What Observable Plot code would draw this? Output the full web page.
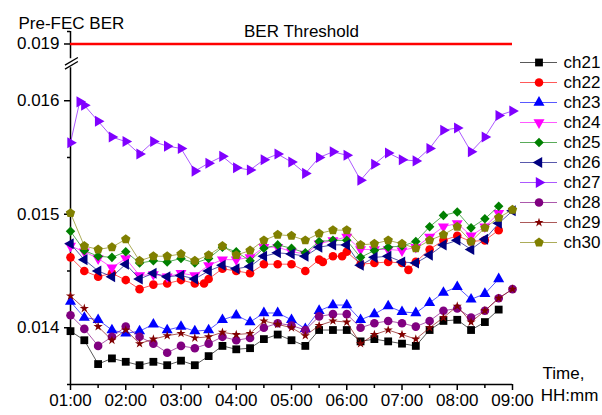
<!DOCTYPE html>
<html>
<head>
<meta charset="utf-8">
<script src="https://cdn.jsdelivr.net/npm/d3@7"></script>
<script src="https://cdn.jsdelivr.net/npm/@observablehq/plot@0.6"></script>
<style>
  html, body { margin: 0; padding: 0; background: #fff; }
  #chart { position: relative; width: 602px; height: 415px; }
  #chart svg { position: absolute; }
</style>
</head>
<body>
<div id="chart"></div>
<script>
// Sampling times (every 15 minutes)
const times = ["01:00","01:15","01:30","01:45","02:00","02:15","02:30","02:45","03:00","03:15","03:30","03:45",
  "04:00","04:15","04:30","04:45","05:00","05:15","05:30","05:45","06:00","06:15","06:30","06:45",
  "07:00","07:15","07:30","07:45","08:00","08:15","08:30","08:45","09:00"];
// Channels with extra samples between the regular ones
const ch22Times = ["01:00","01:15","01:30","01:45","02:00","02:15","02:30","02:45","03:00","03:15","03:25","03:30",
  "03:45","04:00","04:15","04:30","04:45","05:00","05:15","05:30","05:34","05:45","05:55","06:00",
  "06:15","06:30","06:45","07:00","07:07","07:15","07:30","07:45","08:00","08:15","08:30","08:45"];
const ch27Times = ["01:00","01:10","01:15","01:30","01:45","02:00","02:15","02:30","02:45","03:00","03:15","03:30","03:45",
  "04:00","04:15","04:30","04:45","05:00","05:15","05:30","05:45","06:00","06:15","06:30","06:45",
  "07:00","07:15","07:30","07:45","08:00","08:15","08:30","08:45","09:00"];

// Pre-FEC BER per channel
const ch21 = [0.01397,0.01389,0.01368,0.01373,0.01370,0.01367,0.01370,0.01367,0.01371,0.01367,0.01375,0.01384,
  0.01381,0.01382,0.01390,0.01394,0.01389,0.01384,0.01398,0.01398,0.01398,0.01388,0.01390,0.01388,
  0.01386,0.01384,0.01398,0.01406,0.01407,0.01398,0.01405,0.01416];
const ch22 = [0.01462,0.01450,0.01445,0.01448,0.01442,0.01434,0.01438,0.01439,0.01442,0.01439,0.01439,0.01443,
  0.01452,0.01450,0.01448,0.01456,0.01456,0.01456,0.01450,0.01460,0.01458,0.01463,0.01463,0.01467,
  0.01456,0.01457,0.01458,0.01457,0.01451,0.01458,0.01469,0.01477,0.01481,0.01476,0.01477,0.01486];
const ch23 = [0.01423,0.01409,0.01407,0.01398,0.01395,0.01397,0.01403,0.01398,0.01401,0.01397,0.01398,0.01407,
  0.01411,0.01405,0.01413,0.01413,0.01407,0.01399,0.01415,0.01420,0.01420,0.01407,0.01412,0.01419,
  0.01414,0.01413,0.01422,0.01431,0.01436,0.01425,0.01430,0.01443];
const ch24 = [0.01472,0.01467,0.01461,0.01453,0.01461,0.01446,0.01447,0.01445,0.01448,0.01446,0.01455,0.01460,
  0.01460,0.01462,0.01471,0.01471,0.01467,0.01465,0.01474,0.01477,0.01480,0.01469,0.01469,0.01469,
  0.01468,0.01471,0.01480,0.01489,0.01492,0.01481,0.01489,0.01501];
const ch25 = [0.01485,0.01468,0.01463,0.01462,0.01467,0.01457,0.01459,0.01458,0.01461,0.01457,0.01461,0.01471,
  0.01467,0.01459,0.01470,0.01473,0.01470,0.01466,0.01476,0.01477,0.01477,0.01462,0.01468,0.01471,
  0.01472,0.01476,0.01489,0.01499,0.01502,0.01488,0.01496,0.01507];
const ch26 = [0.01474,0.01460,0.01450,0.01445,0.01456,0.01443,0.01448,0.01445,0.01446,0.01443,0.01450,0.01455,
  0.01452,0.01454,0.01463,0.01466,0.01465,0.01463,0.01471,0.01473,0.01473,0.01455,0.01462,0.01463,
  0.01458,0.01457,0.01464,0.01473,0.01477,0.01469,0.01478,0.01492,0.01503];
const ch27 = [0.01563,0.01599,0.01596,0.01582,0.01568,0.01564,0.01553,0.01564,0.01560,0.01558,0.01538,0.01545,
  0.01551,0.01541,0.01539,0.01548,0.01553,0.01546,0.01536,0.01550,0.01555,0.01552,0.01530,0.01544,
  0.01554,0.01548,0.01547,0.01558,0.01574,0.01576,0.01555,0.01568,0.01587,0.01591];
const ch28 = [0.01411,0.01399,0.01384,0.01392,0.01401,0.01392,0.01386,0.01378,0.01384,0.01382,0.01386,0.01392,
  0.01389,0.01391,0.01400,0.01404,0.01402,0.01398,0.01410,0.01412,0.01412,0.01400,0.01404,0.01406,
  0.01404,0.01401,0.01406,0.01415,0.01417,0.01409,0.01415,0.01426,0.01434];
const ch29 = [0.01428,0.01417,0.01401,0.01389,0.01398,0.01386,0.01390,0.01393,0.01395,0.01391,0.01392,0.01396,
  0.01394,0.01395,0.01406,0.01403,0.01400,0.01393,0.01402,0.01406,0.01405,0.01386,0.01394,0.01398,
  0.01394,0.01390,0.01400,0.01409,0.01419,0.01405,0.01415,0.01426,0.01434];
const ch30 = [0.01501,0.01472,0.01469,0.01471,0.01478,0.01459,0.01463,0.01463,0.01465,0.01459,0.01464,0.01472,
  0.01464,0.01468,0.01477,0.01482,0.01481,0.01477,0.01483,0.01486,0.01486,0.01473,0.01474,0.01477,
  0.01474,0.01470,0.01477,0.01482,0.01489,0.01476,0.01488,0.01497,0.01504];

const berThreshold = 0.019;
const thresholdLabel = "BER Threshold";
const yTitle = "Pre-FEC BER";
const xTitle = ["Time,", "HH:mm"];
const yTicks = [0.014, 0.015, 0.016, 0.019];
const yMinorTicks = [0.0135, 0.0145, 0.0155, 0.01911];
const hourTicks = ["01:00","02:00","03:00","04:00","05:00","06:00","07:00","08:00","09:00"];
const halfHourTicks = ["01:30","02:30","03:30","04:30","05:30","06:30","07:30","08:30"];

// Axis segments either side of the break
const yLowerSpan = [0.0135, 0.01629];
const yUpperSpan = [0.01887, 0.01911];

// ---- styling ----
const font = "'Liberation Sans', Arial, Helvetica, sans-serif";
const sqrt3 = Math.sqrt(3);
const triangleDown = {draw(c, size) { const y = -Math.sqrt(size / (sqrt3 * 3));
  c.moveTo(0, -2 * y); c.lineTo(-sqrt3 * y, y); c.lineTo(sqrt3 * y, y); c.closePath(); }};
const triangleLeft = {draw(c, size) { const y = -Math.sqrt(size / (sqrt3 * 3));
  c.moveTo(2 * y, 0); c.lineTo(-y, -sqrt3 * y); c.lineTo(-y, sqrt3 * y); c.closePath(); }};
const triangleRight = {draw(c, size) { const y = -Math.sqrt(size / (sqrt3 * 3));
  c.moveTo(-2 * y, 0); c.lineTo(y, sqrt3 * y); c.lineTo(y, -sqrt3 * y); c.closePath(); }};
const pentagon = {draw(c, size) { const R = Math.sqrt(2 * size / (5 * Math.sin(2 * Math.PI / 5)));
  for (let k = 0; k < 5; ++k) { const a = -Math.PI / 2 + k * 2 * Math.PI / 5;
    k ? c.lineTo(R * Math.cos(a), R * Math.sin(a)) : c.moveTo(R * Math.cos(a), R * Math.sin(a)); }
  c.closePath(); }};

const seriesStyle = {
  ch21: {color: "#000000", symbol: "square", r: 4.4},
  ch22: {color: "#ff0000", symbol: "circle", r: 4.3},
  ch23: {color: "#0000ff", symbol: "triangle", r: 4.1},
  ch24: {color: "#ff00ff", symbol: triangleDown, r: 4.1},
  ch25: {color: "#008000", symbol: "diamond2", r: 4.3},
  ch26: {color: "#000080", symbol: triangleLeft, r: 4.1},
  ch27: {color: "#8000ff", symbol: triangleRight, r: 4.1},
  ch28: {color: "#800080", symbol: "circle", r: 4.3},
  ch29: {color: "#800000", symbol: "star", r: 2.9},
  ch30: {color: "#808000", symbol: pentagon, r: 4.3}
};

const parseTime = d3.utcParse("%H:%M");
const series = [
  ["ch21", times, ch21], ["ch22", ch22Times, ch22], ["ch23", times, ch23], ["ch24", times, ch24],
  ["ch25", times, ch25], ["ch26", times, ch26], ["ch27", ch27Times, ch27], ["ch28", times, ch28],
  ["ch29", times, ch29], ["ch30", times, ch30]
].map(([name, t, v]) => ({name, rows: v.map((value, i) => ({time: parseTime(t[i]), value}))}));
const names = series.map(s => s.name);

// Broken y axis: values above the break are shifted down next to the lower segment
const yBreak = {above: 0.018, shift: 0.0025};
const breakY = v => v > yBreak.above ? v - yBreak.shift : v;
const gapMiddle = (yLowerSpan[1] + breakY(yUpperSpan[0])) / 2;
const unbreakY = v => v > gapMiddle ? v + yBreak.shift : v;
const formatBer = d3.format(".3f");

const x0 = parseTime(hourTicks[0]);
const minutes = m => new Date(x0.getTime() + m * 60000);
const breakSlashes = [0.016279, 0.016314].map(b => ({x1: minutes(-6), x2: minutes(8), y1: b, y2: b + 0.000067}));

const seriesMarks = series.flatMap(({name, rows}) => {
  const s = seriesStyle[name];
  return [
    Plot.line(rows, {x: "time", y: "value", stroke: s.color, strokeWidth: 1, strokeOpacity: 0.65}),
    Plot.dot(rows, {x: "time", y: "value", fill: s.color, symbol: s.symbol, r: s.r})
  ];
});

const chart = Plot.plot({
  width: 602,
  height: 415,
  marginLeft: 70,
  marginRight: 90,
  marginTop: 31,
  marginBottom: 31,
  style: {fontFamily: font, fontSize: "17px", color: "#000", background: "transparent", overflow: "visible"},
  x: {type: "utc", domain: [parseTime(hourTicks[0]), parseTime(hourTicks[hourTicks.length - 1])]},
  y: {type: "linear", transform: breakY, domain: [yLowerSpan[0], breakY(yUpperSpan[1])]},
  marks: [
    // axes (tick values are given on the broken scale and labelled with their true values)
    Plot.ruleY([yLowerSpan[0]], {stroke: "#000", strokeWidth: 1.5}),
    Plot.ruleX([x0], {y1: yLowerSpan[0], y2: yLowerSpan[1], stroke: "#000", strokeWidth: 1.5}),
    Plot.ruleX([x0], {y1: yUpperSpan[0], y2: yUpperSpan[1], stroke: "#000", strokeWidth: 1.5}),
    Plot.link(breakSlashes, {x1: "x1", y1: "y1", x2: "x2", y2: "y2", stroke: "#000", strokeWidth: 1.3}),
    Plot.axisY({ticks: yTicks.map(breakY), tickSize: 6, tickPadding: 5, tickFormat: v => formatBer(unbreakY(v)), label: null, strokeWidth: 1.5}),
    Plot.axisY({ticks: yMinorTicks.map(breakY), tickSize: 3, tickFormat: () => "", label: null, strokeWidth: 1.5}),
    Plot.axisX({ticks: hourTicks.map(parseTime), tickSize: 6, tickPadding: 3, tickFormat: d3.utcFormat("%H:%M"), label: null, strokeWidth: 1.5}),
    Plot.axisX({ticks: halfHourTicks.map(parseTime), tickSize: 4, tickFormat: () => "", label: null, strokeWidth: 1.5}),
    // threshold
    Plot.ruleY([berThreshold], {stroke: "#ff0000", strokeWidth: 2.5}),
    Plot.text([thresholdLabel], {y: () => berThreshold, frameAnchor: "middle", dx: 10, dy: -12, fill: "#000"}),
    // data
    ...seriesMarks,
    // titles
    Plot.text([yTitle], {frameAnchor: "top-left", dx: -52, dy: -15, textAnchor: "start", fill: "#000"}),
    Plot.text([xTitle[0]], {frameAnchor: "bottom-right", dx: 51, dy: -6, textAnchor: "middle", fill: "#000"}),
    Plot.text([xTitle[1]], {frameAnchor: "bottom-right", dx: 57, dy: 16, textAnchor: "middle", fill: "#000"})
  ]
});
chart.style.left = "0px";
chart.style.top = "0px";

const legendMarks = series.flatMap(({name}) => {
  const s = seriesStyle[name];
  return [
    Plot.ruleY([name], {x1: 0, x2: 1, stroke: s.color, strokeWidth: 1, strokeOpacity: 0.65}),
    Plot.dot([name], {x: 0.5, y: d => d, fill: s.color, symbol: s.symbol, r: s.r})
  ];
});
const legend = Plot.plot({
  width: 90,
  height: 215,
  marginLeft: 8,
  marginRight: 45,
  marginTop: 12,
  marginBottom: 18,
  style: {fontFamily: font, fontSize: "17px", color: "#000", background: "transparent", overflow: "visible"},
  x: {domain: [0, 1], axis: null},
  y: {type: "point", domain: names, padding: 0, axis: null},
  marks: [
    ...legendMarks,
    Plot.text(names, {x: 1, y: d => d, dx: 6, textAnchor: "start", fill: "#000"})
  ]
});
legend.style.left = "512px";
legend.style.top = "47px";

const root = document.getElementById("chart");
root.append(chart, legend);
</script>
</body>
</html>
